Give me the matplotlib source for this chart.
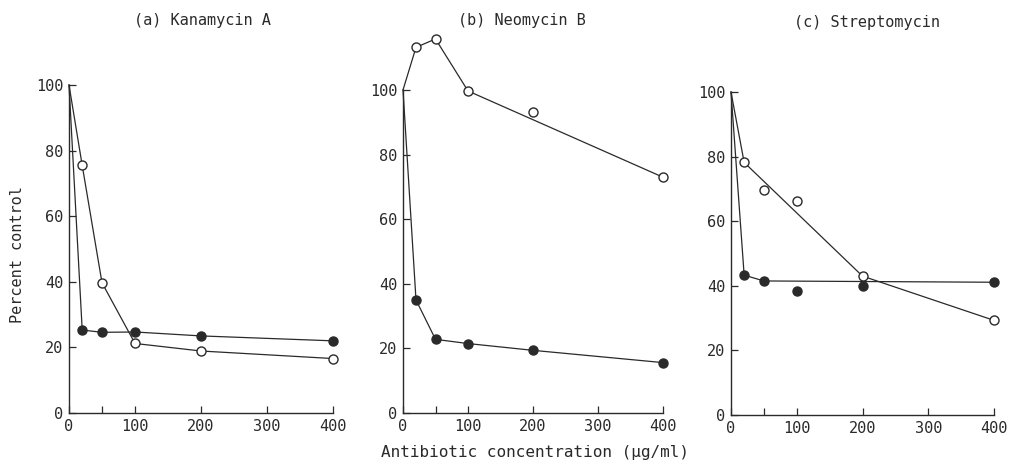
import matplotlib
matplotlib.use('Agg')
import matplotlib.pyplot as plt
import numpy as np

plt.rcParams['font.family'] = ['DejaVu Sans Mono', 'DejaVu Sans']

conc = [0, 20, 50, 100, 200, 400]

# (a) Kanamycin A
kan_open = [100, 75.5, 39.7, 21.2, 18.9, 16.6]
kan_filled = [100, 25.3, 24.6, 24.7, 23.5, 22.0]
kan_open_line_x = [0, 20, 50, 100, 200, 400]
kan_open_line_y = [100, 75.5, 39.7, 21.2, 18.9, 16.6]
kan_filled_line_x = [0, 20, 50, 100, 200, 400]
kan_filled_line_y = [100, 25.3, 24.6, 24.7, 23.5, 22.0]

# (b) Neomycin B
neo_open = [100, 113.2, 115.8, 99.7, 93.3, 73.0]
neo_filled = [100, 35.0, 22.8, 21.5, 19.4, 15.6]
neo_open_line_x = [0, 20, 50, 100, 400]
neo_open_line_y = [100, 113.2, 115.8, 99.7, 73.0]
neo_filled_line_x = [0, 20, 50, 100, 200, 400]
neo_filled_line_y = [100, 35.0, 22.8, 21.5, 19.4, 15.6]

# (c) Streptomycin
str_open = [100, 78.2, 69.7, 66.3, 43.0, 29.3]
str_filled = [100, 43.3, 41.5, 38.4, 40.0, 41.1]
str_open_line_x = [0, 20, 200, 400]
str_open_line_y = [100, 78.2, 43.0, 29.3]
str_filled_line_x = [0, 20, 50, 400]
str_filled_line_y = [100, 43.3, 41.5, 41.1]

titles = ['(a) Kanamycin A', '(b) Neomycin B', '(c) Streptomycin']
xticks = [0, 100, 200, 300, 400]
yticks = [0, 20, 40, 60, 80, 100]

W, H = 1011, 463
fig = plt.figure(figsize=(W / 100, H / 100), dpi=100)
ink = '#2a2a2a'

# axes boxes in pixels: left, x-right, y of 0, y of 100, ymax
boxes = [(69, 333, 413, 85, 100), (403, 663, 413, 90, 120), (731, 994, 415, 92, 100)]
panels = [
    (kan_open, kan_filled, kan_open_line_x, kan_open_line_y, kan_filled_line_x, kan_filled_line_y),
    (neo_open, neo_filled, neo_open_line_x, neo_open_line_y, neo_filled_line_x, neo_filled_line_y),
    (str_open, str_filled, str_open_line_x, str_open_line_y, str_filled_line_x, str_filled_line_y),
]
title_pos = [(202, 20), (522, 20), (867, 23)]

for (l, r, y0, y100, ymax), data, title, tp in zip(boxes, panels, titles, title_pos):
    per = (y0 - y100) / 100.0
    top = y0 - per * ymax
    ax = fig.add_axes([l / W, (H - y0) / H, (r - l) / W, (y0 - top) / H])
    op, fi, olx, oly, flx, fly = data
    ax.plot(olx, oly, color=ink, lw=0.9, clip_on=False)
    ax.plot(flx, fly, color=ink, lw=0.9, clip_on=False)
    ax.plot(conc[1:], op[1:], 'o', ms=6.5, mfc='white', mec=ink, mew=1.0,
            ls='none', clip_on=False, zorder=3)
    ax.plot(conc[1:], fi[1:], 'o', ms=6.5, mfc=ink, mec=ink, mew=1.0,
            ls='none', clip_on=False, zorder=3)
    ax.set_xlim(0, 400)
    ax.set_ylim(0, ymax)
    ax.spines['top'].set_visible(False)
    ax.spines['right'].set_visible(False)
    ax.spines['left'].set_bounds(0, 100)
    for s in ('left', 'bottom'):
        ax.spines[s].set_color(ink)
        ax.spines[s].set_linewidth(1.0)
    ax.set_xticks(xticks)
    ax.set_xticks([50], minor=True)
    ax.set_yticks(yticks)
    ax.tick_params(direction='in', length=5, width=0.9, colors=ink,
                   labelsize=11, pad=4)
    ax.tick_params(which='minor', direction='in', length=5, width=0.9, colors=ink)
    ax.patch.set_alpha(0)
    fig.text(tp[0] / W, 1 - tp[1] / H, title, ha='center', va='center',
             fontsize=11, color=ink)

fig.text(18 / W, 1 - 255 / H, 'Percent control', rotation=90, ha='center',
         va='center', fontsize=11, color=ink)
fig.text(535 / W, 1 - 452 / H, 'Antibiotic concentration (μg/ml)', ha='center',
         va='center', fontsize=11.5, color=ink)

fig.savefig('out.png', dpi=100, facecolor='white')
